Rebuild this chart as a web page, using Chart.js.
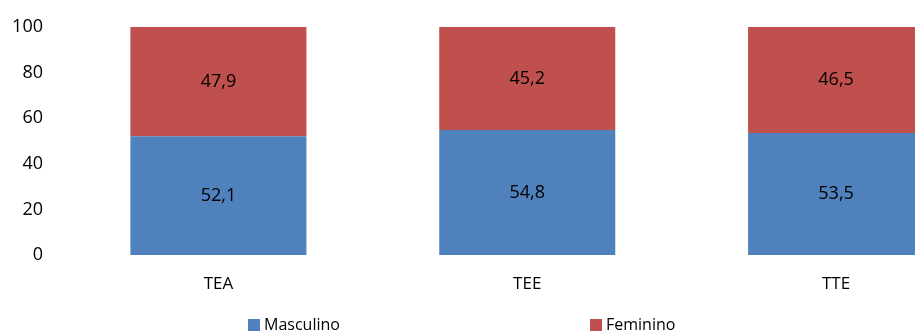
<!DOCTYPE html>
<html>
<head>
<meta charset="utf-8">
<script src="https://cdn.jsdelivr.net/npm/chart.js@4/dist/chart.umd.min.js"></script>
<style>
  html, body { margin: 0; padding: 0; background: #fff; }
  #wrap { width: 915px; height: 334px; overflow: hidden; }
</style>
</head>
<body>
<div id="wrap">
  <canvas id="chart" width="1000" height="334"></canvas>
</div>
<script>
const categories = ['TEA', 'TEE', 'TTE'];
const masculino = [52.1, 54.8, 53.5];
const feminino = [47.9, 45.2, 46.5];
const yTicks = [0, 20, 40, 60, 80, 100];

const FONT = '"Open Sans", "DejaVu Sans", sans-serif';
const BLUE = '#4F81BD';
const RED = '#C0504D';

// value written in the middle of every stacked segment
const segmentLabels = {
  id: 'segmentLabels',
  afterDatasetsDraw(chart) {
    const ctx = chart.ctx;
    ctx.save();
    ctx.font = '18px ' + FONT;
    ctx.fillStyle = '#000';
    ctx.textAlign = 'center';
    ctx.textBaseline = 'middle';
    chart.data.datasets.forEach((ds, i) => {
      chart.getDatasetMeta(i).data.forEach((bar, j) => {
        const txt = ds.data[j].toFixed(1).replace('.', ',');
        ctx.fillText(txt, bar.x, (bar.y + bar.base) / 2);
      });
    });
    ctx.restore();
  }
};

// legend along the bottom, items spread apart
const bottomLegend = {
  id: 'bottomLegend',
  afterDraw(chart) {
    const ctx = chart.ctx;
    const xs = [248, 590];
    const y = 325;
    ctx.save();
    ctx.font = '16px ' + FONT;
    ctx.textBaseline = 'middle';
    ctx.textAlign = 'left';
    chart.data.datasets.forEach((ds, i) => {
      ctx.fillStyle = ds.backgroundColor;
      ctx.fillRect(xs[i], y - 6, 12, 12);
      ctx.fillStyle = '#000';
      ctx.fillText(ds.label, xs[i] + 16, y);
    });
    ctx.restore();
  }
};

new Chart(document.getElementById('chart'), {
  type: 'bar',
  data: {
    labels: categories,
    datasets: [
      { label: 'Masculino', data: masculino, backgroundColor: BLUE },
      { label: 'Feminino', data: feminino, backgroundColor: RED }
    ]
  },
  options: {
    responsive: false,
    animation: false,
    layout: { padding: { top: 27, right: 9.5, bottom: 40, left: 0 } },
    datasets: { bar: { barPercentage: 0.57, categoryPercentage: 1 } },
    plugins: {
      legend: { display: false },
      tooltip: { enabled: false }
    },
    scales: {
      x: {
        stacked: true,
        grid: { display: false, drawTicks: false },
        border: { display: false },
        ticks: { color: '#000', font: { family: FONT, size: 17 }, padding: 19 },
        afterFit(s) { s.height = 39; }
      },
      y: {
        stacked: true,
        min: 0,
        max: 100,
        grid: { display: false, drawTicks: false },
        border: { display: false },
        afterBuildTicks(s) { s.ticks = yTicks.map(v => ({ value: v })); },
        ticks: { color: '#000', font: { family: FONT, size: 18 }, padding: 21 },
        afterFit(s) {
          s.width = 64;
          s.paddingTop = 0;
          s.paddingBottom = 0;
        }
      }
    }
  },
  plugins: [segmentLabels, bottomLegend]
});
</script>
</body>
</html>
